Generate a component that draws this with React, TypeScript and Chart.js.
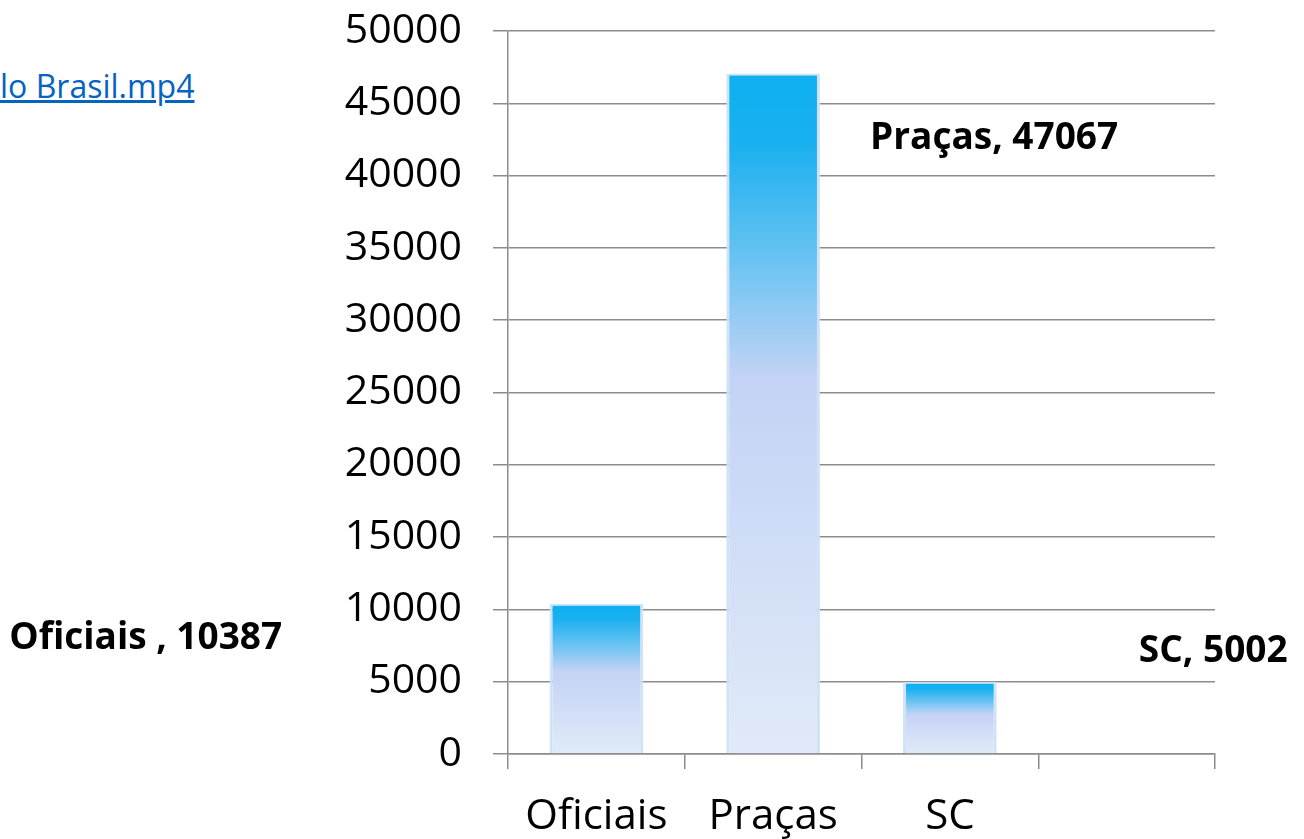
import React, { useEffect, useRef } from "react";
import { Chart, registerables } from "chart.js";

Chart.register(...registerables);

const categories = ["Oficiais", "Praças", "SC", ""];
const values: (number | null)[] = [10387, 47067, 5002, null];
const labelNames = ["Oficiais ", "Praças", "SC"];
const yTicks = [0, 5000, 10000, 15000, 20000, 25000, 30000, 35000, 40000, 45000, 50000];

// label anchor positions in chart (category index, value) space
const labelAnchorX = [-2.55, 2.25, 3.49];
const labelAnchorY = [8000, 42600, 7100];

const FONT = "'Open Sans', 'Noto Sans', sans-serif";

export default function App() {
  const ref = useRef<HTMLCanvasElement | null>(null);

  useEffect(() => {
    const canvas = ref.current;
    if (!canvas) return;

    const dataLabelPlugin = {
      id: "dataLabelPlugin",
      afterDraw(chart: any) {
        const { ctx, scales } = chart;
        ctx.save();
        ctx.fillStyle = "#000";
        ctx.font = `bold 37px ${FONT}`;
        ctx.textAlign = "center";
        ctx.textBaseline = "middle";
        labelNames.forEach((name, i) => {
          const v = values[i];
          if (v == null) return;
          const x = scales.x.getPixelForValue(labelAnchorX[i]);
          const y = scales.y.getPixelForValue(labelAnchorY[i]);
          ctx.fillText(`${name}, ${v}`, x, y);
        });
        ctx.restore();
      },
    };

    const chart = new Chart(canvas, {
      type: "bar",
      data: {
        labels: categories,
        datasets: [
          {
            data: values,
            backgroundColor: (c: any) => {
              const ch = c.chart;
              const { chartArea, scales } = ch;
              if (!chartArea || c.raw == null) return "#9fd0f5";
              const top = scales.y.getPixelForValue(c.raw);
              const bot = scales.y.getPixelForValue(0);
              const g = ch.ctx.createLinearGradient(0, top, 0, bot);
              g.addColorStop(0, "#0db0f0");
              g.addColorStop(0.1, "#19b0f0");
              g.addColorStop(0.28, "#6cc4f2");
              g.addColorStop(0.45, "#c4d3f5");
              g.addColorStop(1, "#e0eaf8");
              return g;
            },
            borderColor: "rgba(205,225,245,0.95)",
            borderWidth: { top: 2, left: 3, right: 3, bottom: 0 },
            borderSkipped: "bottom",
            categoryPercentage: 1,
            barPercentage: 0.53,
          },
        ],
      },
      options: {
        animation: false,
        responsive: false,
        maintainAspectRatio: false,
        layout: { padding: { top: 31, right: 89, left: 0, bottom: 0 } },
        plugins: {
          legend: { display: false },
          tooltip: { enabled: false },
          title: { display: false },
        },
        scales: {
          x: {
            type: "category",
            grid: {
              display: true,
              drawOnChartArea: false,
              drawTicks: true,
              tickLength: 15,
              offset: true,
              color: "#8c8c8c",
              lineWidth: 1.5,
            },
            border: { display: true, color: "#8c8c8c", width: 1.5 },
            ticks: {
              color: "#000",
              font: { family: FONT, size: 42 },
              padding: 23,
              maxRotation: 0,
              autoSkip: false,
            },
            afterFit: (s: any) => {
              s.height = 85;
              s.paddingLeft = 0;
              s.paddingRight = 0;
            },
          },
          y: {
            type: "linear",
            min: 0,
            max: 50000,
            afterBuildTicks: (s: any) => {
              s.ticks = yTicks.map((v) => ({ value: v }));
            },
            grid: {
              color: "#8c8c8c",
              lineWidth: 1.5,
              tickLength: 15,
            },
            border: { display: true, color: "#8c8c8c", width: 1.5 },
            ticks: {
              color: "#000",
              font: { family: FONT, size: 41 },
              padding: 31,
              callback: (v: any) => String(v),
            },
            afterFit: (s: any) => {
              s.width = 508;
              s.paddingTop = 0;
              s.paddingBottom = 0;
            },
          },
        },
      },
      plugins: [dataLabelPlugin],
    } as any);

    return () => chart.destroy();
  }, []);

  return (
    <div style={{ position: "fixed", left: 0, top: 0, width: 1304, height: 839, background: "#fff", overflow: "hidden" }}>
      <span
        style={{
          position: "absolute",
          left: 0,
          top: 66,
          fontFamily: FONT,
          fontSize: 32,
          lineHeight: "40px",
          color: "#0563c1",
          textDecoration: "underline",
          whiteSpace: "nowrap",
        }}
      >
        lo Brasil.mp4
      </span>
      <canvas ref={ref} width={1304} height={839} style={{ position: "absolute", left: 0, top: 0, width: 1304, height: 839 }} />
    </div>
  );
}
